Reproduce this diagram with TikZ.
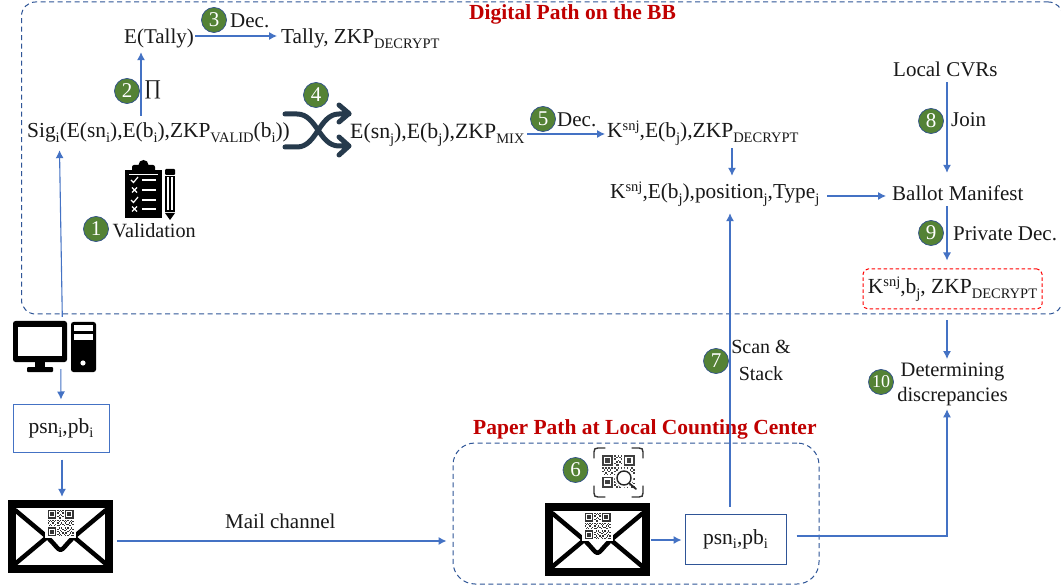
\documentclass[tikz,border=0pt]{standalone}
\usepackage{fontspec}
\setmainfont{Liberation Serif}
\usetikzlibrary{arrows.meta}
\definecolor{arrowblue}{HTML}{4472C4}
\definecolor{boxblue}{HTML}{2F5597}
\definecolor{stepgreen}{HTML}{548235}
\definecolor{titlered}{HTML}{C00000}
\definecolor{shufflecol}{HTML}{263A4C}
\newcommand\sbb[1]{\raisebox{-4.5pt}{\fontsize{14.5}{14}\selectfont #1}}
\newcommand\spp[1]{\raisebox{7.5pt}{\fontsize{14.5}{14}\selectfont #1}}
\tikzset{
  x=1pt,y=-1pt,
  arr/.style={draw=arrowblue,line width=1.1pt,-{Latex[length=8pt,width=8pt]}},
  txt/.style={inner sep=0pt,anchor=west,text height=13pt,text depth=5pt,text=black!90,font=\fontsize{21}{24}\selectfont},
  txtsize/.style={font=\fontsize{#1}{24}\selectfont},
  twoline/.style={inner sep=0pt,align=center,text=black!90},
  titletxt/.style={inner sep=0pt,anchor=west,text height=13pt,text depth=5pt,text=titlered,font=\fontsize{21.5}{24}\selectfont\bfseries},
  stepdot/.style={circle,fill=stepgreen,draw=arrowblue!70!black,line width=0.7pt,minimum size=25pt,inner sep=0pt,text=white,font=\fontsize{21}{22}\selectfont},
  dashbox/.style={draw=boxblue,line width=1pt,dash pattern=on 5pt off 3.5pt,rounded corners=14pt},
  plainbox/.style={rectangle,inner sep=0pt,text=black!90,font=\fontsize{21.5}{24}\selectfont},
  icon/.style={rectangle,inner sep=0pt,draw=none},
  pics/qr/.style={code={
    \fill (0,0) rectangle (7,7);  \fill[white] (1,1) rectangle (6,6);  \fill (2,2) rectangle (5,5);
    \fill (14,0) rectangle (21,7);\fill[white] (15,1) rectangle (20,6);\fill (16,2) rectangle (19,5);
    \fill (0,14) rectangle (7,21);\fill[white] (1,15) rectangle (6,20);\fill (2,16) rectangle (5,19);
    \foreach \c/\r in {8/0,10/0,12/0,9/1,11/1,8/2,12/2,10/3,9/4,11/4,8/5,12/5,10/6,9/6,
      0/8,2/8,4/8,6/8,1/9,3/9,5/9,0/10,4/10,2/11,6/11,1/12,3/12,5/12,
      8/8,10/8,12/8,14/8,16/8,19/8,9/9,13/9,15/9,18/9,20/9,8/10,11/10,14/10,17/10,19/10,
      10/11,12/11,15/11,16/11,20/11,8/12,9/12,13/12,17/12,18/12,
      9/14,11/14,14/14,16/14,19/14,8/15,12/15,15/15,18/15,20/15,10/16,13/16,14/16,17/16,
      8/17,11/17,16/17,19/17,9/18,12/18,14/18,15/18,18/18,20/18,8/19,10/19,13/19,17/19,
      11/20,9/20,14/20,16/20,19/20,20/20}
      {\fill (\c,\r) rectangle ++(1,1);}
  }},
  pics/envelopeicon/.style={code={
    \fill[black] (0,0) rectangle (105,73);
    \fill[white] (7.5,8) rectangle (97,65);
    \draw[black,line width=4.5pt,line join=round]
      (7,10) -- (38,36) .. controls (46,43) and (50,50) .. (52.5,50) .. controls (55,50) and (59,43) .. (67,36) -- (98,10);
    \draw[black,line width=4.5pt] (7,64) -- (38,38) (98,64) -- (67,38);
    \fill[white] (37,8) rectangle (68,38);
    \pic[scale=1.24,black!80] at (39.5,10) {qr};
  }},
  pics/computericon/.style={code={
    \fill[black,rounded corners=2.5pt] (0,0) rectangle (54,41);
    \fill[white] (5,6) rectangle (49,35);
    \fill[black] (22,41) rectangle (32,46);
    \fill[black,rounded corners=1pt] (14,46) rectangle (40,51);
    \fill[black,rounded corners=2.5pt] (58,1) rectangle (83,51);
    \fill[white] (61,4) rectangle (80,10);
    \fill[white] (61,13) rectangle (80,19);
    \fill[white] (70,42) circle (2.6);
  }},
  pics/clipboardicon/.style={code={
    \fill[black] (0,7) rectangle (37,55);
    \fill[black,rounded corners=2pt] (7,2) rectangle (30,10);
    \fill[black] (18.5,2) circle (5);
    \draw[white,line width=0.9pt] (4,11) -- (33,11);
    \foreach \yy/\kind in {17/1,27/0,37/1,46/0}{
      \draw[white,line width=1.5pt] (17,\yy) -- (31,\yy);
      \ifnum\kind=1
        \draw[white,line width=1.2pt] (6,\yy) -- (8.5,\yy+2.5) -- (13,\yy-3);
      \else
        \draw[white,line width=1.2pt] (7,\yy-2.5) -- (12,\yy+2.5) (12,\yy-2.5) -- (7,\yy+2.5);
      \fi
    }
    \fill[black,rounded corners=1pt] (40,6) rectangle (50,12);
    \fill[black] (40,13) rectangle (50,49);
    \fill[white] (42,14) rectangle (44,47);
    \fill[white] (46,14) rectangle (48,47);
    \fill[black] (40,50) -- (50,50) -- (45,57) -- cycle;
  }},
  pics/shuffleicon/.style={code={
    \draw[shufflecol,line width=5pt,line cap=round,line join=round]
      (0,11) -- (12,11) .. controls (32,11) and (34,43) .. (54,43) -- (64,43)
      (0,44) -- (12,44) .. controls (32,44) and (34,11) .. (54,11) -- (64,11)
      (54,2) -- (64,10.5) -- (54,19)
      (54,34) -- (64,43) -- (54,52);
  }},
  pics/scanicon/.style={code={
    \draw[black!80,line width=1.4pt,line cap=round]
      (0,10) -- (0,4) .. controls (0,1) and (1,0) .. (4,0) -- (11,0)
      (38,0) -- (45,0) .. controls (48,0) and (49,1) .. (49,4) -- (49,10)
      (0,38) -- (0,45) .. controls (0,48) and (1,49) .. (4,49) -- (11,49)
      (38,49) -- (45,49) .. controls (48,49) and (49,48) .. (49,45) -- (49,38);
    \pic[scale=1.55,black!75] at (8,7) {qr};
    \fill[white] (30,30) circle (9.5);
    \draw[black!85,line width=1.4pt] (30,30) circle (7);
    \draw[black!85,line width=1.8pt,line cap=round] (35.5,35.5) -- (42,41);
  }}
}
\begin{document}
\begin{tikzpicture}
\useasboundingbox (0,0) rectangle (1061,588);
\fill[white] (0,0) rectangle (1061,588);

% containers
\node[dashbox,rectangle,inner sep=0pt,minimum width=1041pt,minimum height=312pt] (digital) at (542,158) {};
\node[dashbox,rectangle,inner sep=0pt,rounded corners=22pt,minimum width=366pt,minimum height=141pt] (paper) at (636,513.5) {};
\node[titletxt] (digitaltitle) at (469,16) {Digital Path on the BB};
\node[titletxt] (papertitle) at (473,430) {Paper Path at Local Counting Center};

% texts
\node[txt] (etally) at (124,40) {E(Tally)};
\node[txt,txtsize=21.3] (tally) at (281,40) {Tally, ZKP\sbb{DECRYPT}};
\node[txt] (dec3) at (230,24) {Dec.};
\node[txt] (pi) at (144,91) {∏};
\node[txt,txtsize=21.4] (sig) at (27,134) {Sig\sbb{i}(E(sn\sbb{i}),E(b\sbb{i}),ZKP\sbb{VALID}(b\sbb{i}))};
\node[txt,txtsize=21.8] (esn) at (350,135) {E(sn\sbb{j}),E(b\sbb{j}),ZKP\sbb{MIX}};
\node[txt] (dec5) at (557,123) {Dec.};
\node[txt,txtsize=21.5] (kzk) at (607,134) {K\spp{snj},E(b\sbb{j}),ZKP\sbb{DECRYPT}};
\node[txt,txtsize=21.3] (kpos) at (610,195) {K\spp{snj},E(b\sbb{j}),position\sbb{j},Type\sbb{j}};
\node[txt] (cvr) at (893,73) {Local CVRs};
\node[txt] (join) at (951,123) {Join};
\node[txt] (ballot) at (892,197) {Ballot Manifest};
\node[txt] (privdec) at (953,237) {Private Dec.};
\node[txt,txtsize=20.2] (valid) at (112.5,234) {Validation};
\node[plainbox,draw=red,line width=1pt,dash pattern=on 3.5pt off 2.5pt,rounded corners=5pt,minimum width=179pt,minimum height=40pt] (red) at (952.5,289) {K\spp{snj},b\sbb{j}, ZKP\sbb{DECRYPT}};
\node[twoline,anchor=north,font=\fontsize{20}{27}\selectfont] (scan) at (761,340) {Scan \&\\Stack};
\node[twoline,anchor=north,font=\fontsize{20.5}{25}\selectfont] (det) at (952.5,363) {Determining\\discrepancies};
\node[txt] (mail) at (225,524) {Mail channel};

% boxes
\node[plainbox,draw=arrowblue,line width=1pt,minimum width=96pt,minimum height=48pt] (box1) at (61,428) {\raisebox{-3pt}{psn\sbb{i},pb\sbb{i}}};
\node[plainbox,draw=boxblue,line width=1pt,minimum width=101pt,minimum height=50pt] (box2) at (735.5,539) {\raisebox{-2pt}{psn\sbb{i},pb\sbb{i}}};

% icons
\node[icon,minimum width=83pt,minimum height=51pt] (pc) at (54.5,346.5) {};
\pic at (13,321) {computericon};
\node[icon,minimum width=105pt,minimum height=73pt] (env1) at (60.5,536.5) {};
\pic at (8,500) {envelopeicon};
\node[icon,minimum width=105pt,minimum height=74pt] (env2) at (597.5,540) {};
\pic at (545,503) {envelopeicon};
\node[icon,minimum width=50pt,minimum height=56pt] (clip) at (150,191) {};
\pic at (125,163) {clipboardicon};
\node[icon,minimum width=66pt,minimum height=54pt] (shuffle) at (317,130) {};
\pic at (285,103) {shuffleicon};
\node[icon,minimum width=49pt,minimum height=49pt] (qrscan) at (618.5,472.5) {};
\pic at (594,448) {scanicon};

% step markers
\node[stepdot] (s1) at (96,229) {1};
\node[stepdot] (s2) at (127,91) {2};
\node[stepdot] (s3) at (214,20) {3};
\node[stepdot] (s4) at (316,95) {4};
\node[stepdot] (s5) at (543,119) {5};
\node[stepdot] (s6) at (575.5,470) {6};
\node[stepdot] (s7) at (716,361) {7};
\node[stepdot] (s8) at (931,121) {8};
\node[stepdot] (s9) at (931,233) {9};
\node[stepdot,font=\fontsize{18}{18}\selectfont] (s10) at (881,382) {10};

% connectors
\draw[arr] ([xshift=114pt,yshift=9pt]sig.north west) -- ([xshift=17pt,yshift=-3pt]etally.south west);
\draw[arr] ([xshift=71pt,yshift=4pt]etally.west) -- ([xshift=-4pt,yshift=4pt]tally.west);
\draw[arr] ([xshift=49.5pt,yshift=4pt]pc.north west) -- ([xshift=32.5pt,yshift=-7pt]sig.south west);
\draw[arr] ([xshift=48pt,yshift=3pt]pc.south west) -- ([yshift=4pt]box1.north);
\draw[arr] ([xshift=1pt,yshift=-7pt]box1.south) -- ([xshift=1.5pt,yshift=3pt]env1.north);
\draw[arr] ([xshift=4pt,yshift=-4.5pt]env1.east) -- ([xshift=-6pt,yshift=-27.5pt]paper.west);
\draw[arr] ([xshift=1pt]env2.east) -- ([xshift=-3pt,yshift=-1pt]box2.west);
\draw[arr] ([xshift=-5.5pt,yshift=7pt]box2.north) -- ([xshift=120pt,yshift=-9pt]kpos.south west);
\draw[arr] ([xshift=10pt,yshift=3pt]box2.east) -| ([xshift=-5.5pt,yshift=-3pt]det.south);
\draw[arr] ([xshift=-5.5pt,yshift=-11pt]red.south) -- ([xshift=-5.5pt,yshift=4pt]det.north);
\draw[arr] ([xshift=55pt]ballot.south west) -- ([xshift=-5.5pt,yshift=8pt]red.north);
\draw[arr] ([xshift=54pt]cvr.south west) -- ([xshift=55pt,yshift=15pt]ballot.north west);
\draw[arr] ([xshift=217pt,yshift=-1pt]kpos.west) -- ([xshift=-6pt,yshift=1pt]ballot.west);
\draw[arr] ([xshift=125pt,yshift=-5pt]kzk.south west) -- ([xshift=122pt,yshift=10pt]kpos.north west);
\draw[arr] ([xshift=177pt,yshift=1pt]esn.west) -- ([xshift=-2pt]kzk.west);
\end{tikzpicture}
\end{document}
